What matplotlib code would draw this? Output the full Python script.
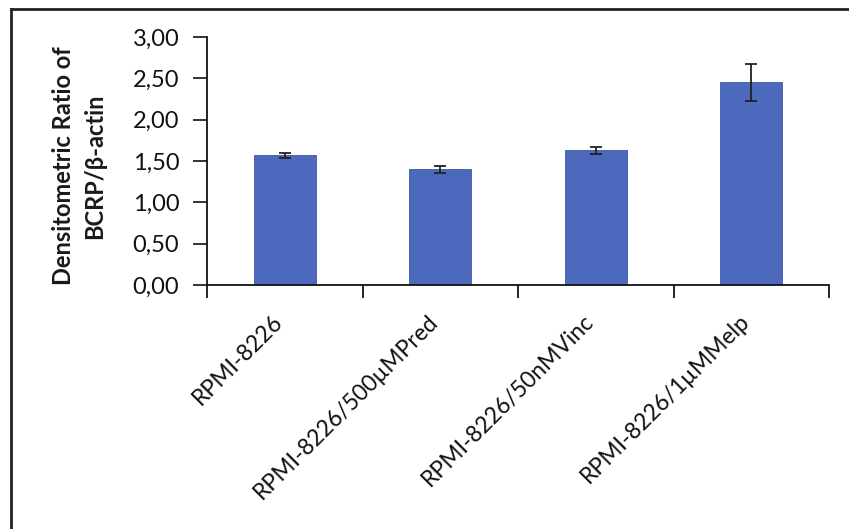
import matplotlib
matplotlib.use("Agg")
import matplotlib.pyplot as plt
from matplotlib.lines import Line2D
from matplotlib.ticker import FuncFormatter, FixedLocator
import matplotlib.transforms as mtransforms

categories = ["RPMI-8226", "RPMI-8226/500µMPred", "RPMI-8226/50nMVinc", "RPMI-8226/1µMMelp"]
values = [1.57, 1.40, 1.63, 2.45]
errors = [0.03, 0.04, 0.04, 0.22]
yticks = [0.0, 0.5, 1.0, 1.5, 2.0, 2.5, 3.0]

plt.rcParams['font.family'] = ['Lato', 'DejaVu Sans']

W, H = 849, 529
fig = plt.figure(figsize=(W / 100, H / 100), dpi=100)
ax = fig.add_axes([207 / W, 1 - 285 / H, (829 - 207) / W, (285 - 37) / H])

x = list(range(len(categories)))
ax.bar(x, values, width=0.4, color="#4d69be", edgecolor="#3f58a6", linewidth=0.6, zorder=2)
ax.errorbar(x, values, yerr=errors, fmt='none', ecolor='#222222', elinewidth=1.3,
            capsize=4.5, capthick=1.3, zorder=3)

ax.set_xlim(-0.5, len(categories) - 0.5)
ax.set_ylim(0, 3.0)
ax.set_yticks(yticks)
ax.yaxis.set_major_formatter(FuncFormatter(lambda v, p: f"{v:.2f}".replace('.', ',')))
ax.tick_params(axis='y', direction='out', length=10, width=1.2, pad=10, labelsize=17, colors='#111111')

ax.xaxis.set_major_locator(FixedLocator([i - 0.5 for i in range(len(categories) + 1)]))
ax.xaxis.set_major_formatter(FuncFormatter(lambda v, p: ""))
ax.set_xticks(x, minor=True)
ax.set_xticklabels(categories, minor=True, rotation=45, ha='right', va='center',
                   rotation_mode='anchor', fontsize=16.5, color='#111111')
ax.tick_params(axis='x', which='major', direction='out', length=9, width=1.2)
ax.tick_params(axis='x', which='minor', length=0, pad=0)
offset = mtransforms.ScaledTranslation(-5 / 100, -33 / 100, fig.dpi_scale_trans)
for lab in ax.get_xticklabels(minor=True):
    lab.set_transform(lab.get_transform() + offset)

for s in ['top', 'right']:
    ax.spines[s].set_visible(False)
for s in ['left', 'bottom']:
    ax.spines[s].set_linewidth(1.3)
    ax.spines[s].set_color('#111111')

fig.text(79 / W, 1 - 166 / H, "Densitometric Ratio of\nBCRP/β-actin", rotation=90,
         ha='center', va='center', fontsize=17, fontweight='bold', linespacing=1.4,
         color='#1a1a1a')

fig.add_artist(Line2D([11 / W, 1.0], [1 - 9 / H, 1 - 9 / H], transform=fig.transFigure,
                      color='#222222', linewidth=2.0))
fig.add_artist(Line2D([11 / W, 11 / W], [1 - 9 / H, 0.0], transform=fig.transFigure,
                      color='#222222', linewidth=2.0))

fig.savefig("out.png", dpi=100)
